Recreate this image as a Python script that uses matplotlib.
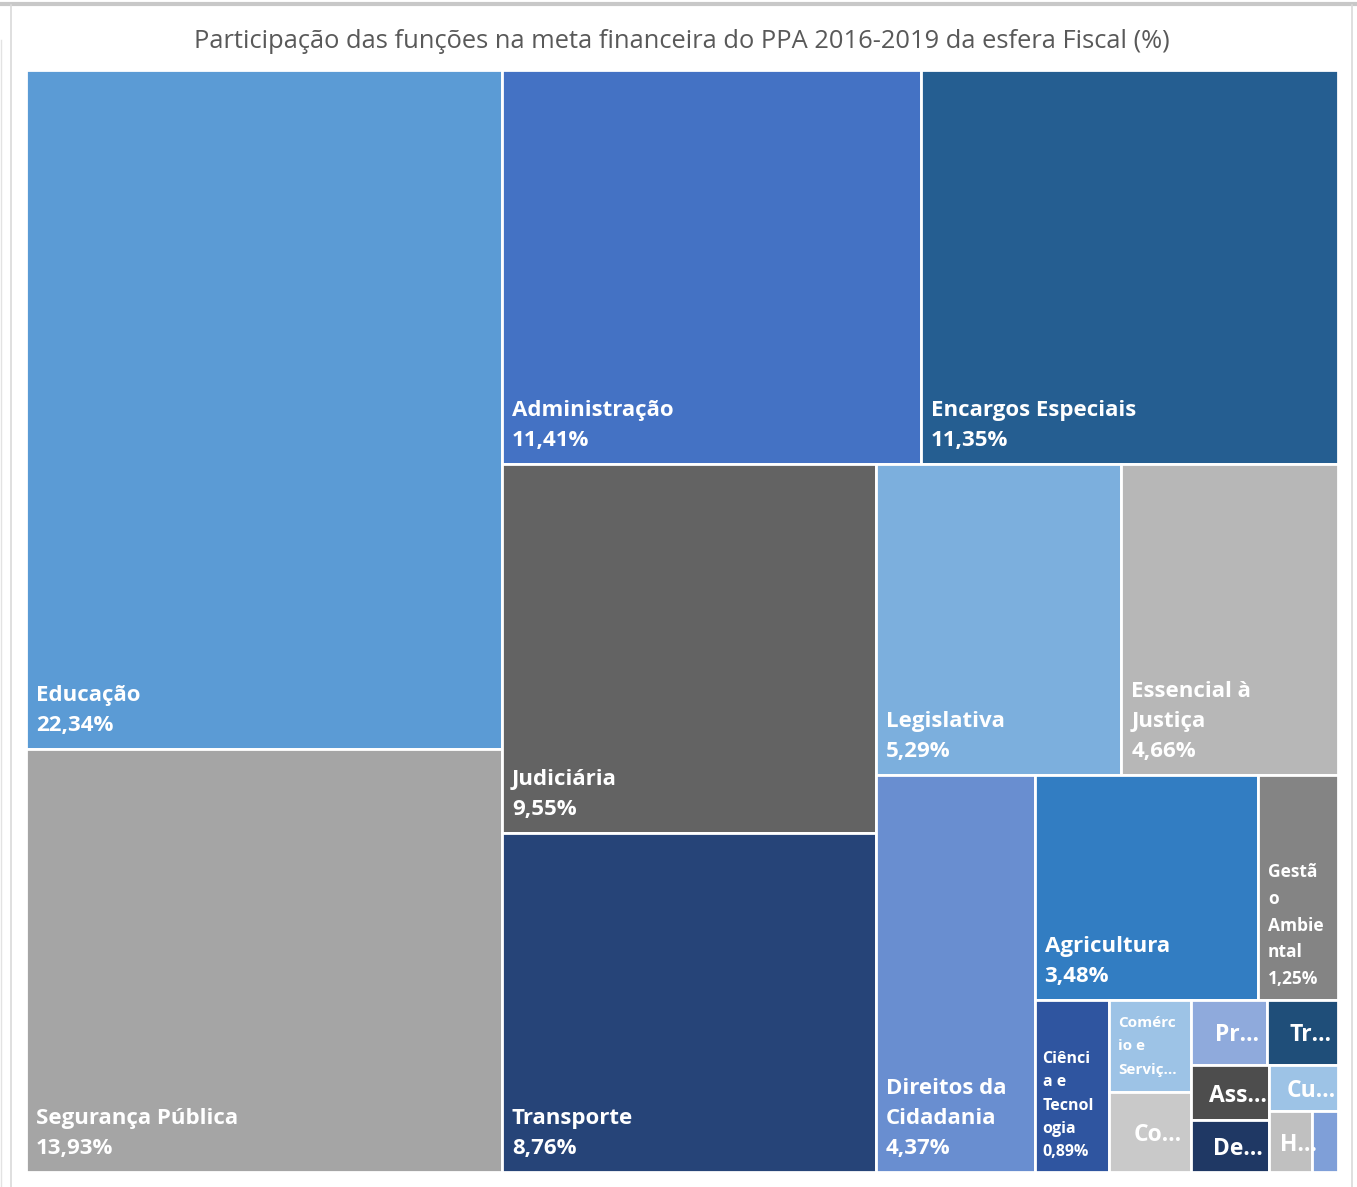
import matplotlib.pyplot as plt
from matplotlib.patches import Rectangle

# data
names = ["Educação", "Segurança Pública", "Administração", "Encargos Especiais",
         "Judiciária", "Transporte", "Legislativa", "Essencial à Justiça",
         "Direitos da Cidadania", "Agricultura", "Gestão Ambiental",
         "Ciência e Tecnologia", "Comércio e Serviços", "Co…", "Pr…", "Tr…",
         "Ass…", "De…", "Cu…", "H…", ""]
values = [22.34, 13.93, 11.41, 11.35, 9.55, 8.76, 5.29, 4.66, 4.37, 3.48, 1.25,
          0.89, 0.52, 0.45, 0.34, 0.32, 0.30, 0.28, 0.22, 0.18, 0.11]
# text as shown in each cell (Excel wraps / truncates small ones)
shown = ["Educação", "Segurança Pública", "Administração", "Encargos Especiais",
         "Judiciária", "Transporte", "Legislativa", "Essencial à\nJustiça",
         "Direitos da\nCidadania", "Agricultura", "Gestã\no\nAmbie\nntal",
         "Ciênci\na e\nTecnol\nogia", "Comérc\nio e\nServiç…", "Co…", "Pr…", "Tr…",
         "Ass…", "De…", "Cu…", "H…", ""]
colors = ["#5B9BD5", "#A5A5A5", "#4472C4", "#255E91", "#636363", "#264478",
          "#7CAFDD", "#B7B7B7", "#698ED0", "#327DC2", "#848484", "#2F55A0",
          "#9DC3E6", "#C9C9C9", "#8FAADC", "#1F4E79", "#4D4D4D", "#1F3864",
          "#9DC3E6", "#C0C0C0", "#7F9FD8"]
# how many items go in each strip of the treemap
strips = [2, 2, 2, 2, 1, 2, 1, 2, 2, 2, 1, 1, 1]


def treemap(vals, strips, x, y, w, h):
    scale = w * h / sum(vals)
    rects = []
    i = 0
    for n in strips:
        group = vals[i:i + n]
        i += n
        area = sum(group) * scale
        if w >= h:
            t = area / h
            yy = y
            for v in group:
                hh = v * scale / t
                rects.append((x, yy, t, hh))
                yy += hh
            x += t
            w -= t
        else:
            t = area / w
            xx = x
            for v in group:
                ww = v * scale / t
                rects.append((xx, y, ww, t))
                xx += ww
            y += t
            h -= t
    return rects


W, H = 1357, 1187
fig = plt.figure(figsize=(W / 100, H / 100), dpi=100)
ax = fig.add_axes([0, 0, 1, 1])
ax.set_xlim(0, W)
ax.set_ylim(H, 0)
ax.axis("off")

# chart frame
ax.plot([0, W], [4, 4], color="#C8C8C8", lw=3)
ax.plot([11, 11], [5, H], color="#D9D9D9", lw=1.2)
ax.plot([1352, 1352], [5, H], color="#D9D9D9", lw=1.2)
ax.plot([1, 1], [40, H], color="#E3E3E3", lw=1)

ax.text(682, 41, "Participação das funções na meta financeira do PPA 2016-2019 da esfera Fiscal (%)",
        ha="center", va="center", fontsize=18.4, color="#595959", family="Open Sans")

font = dict(color="white", fontweight="bold", family="Open Sans")
rects = treemap(values, strips, 26, 70, 1312, 1102)
for i, (x, y, w, h) in enumerate(rects):
    ax.add_patch(Rectangle((x, y), w, h, facecolor=colors[i], edgecolor="white", lw=2))
    pct = f"{values[i]:.2f}%".replace(".", ",")
    if i < 10:
        ax.text(x + 10, y + h - 13, shown[i] + "\n" + pct, ha="left", va="bottom",
                fontsize=16, linespacing=1.56, **font)
    elif i == 10:
        ax.text(x + 10, y + h - 12, shown[i] + "\n" + pct, ha="left", va="bottom",
                fontsize=12.5, linespacing=1.62, **font)
    elif i == 11:
        ax.text(x + 8, y + h - 12, shown[i] + "\n" + pct, ha="left", va="bottom",
                fontsize=11.5, linespacing=1.6, **font)
    elif i == 12:
        ax.text(x + 9, y + 16, shown[i], ha="left", va="top",
                fontsize=11, linespacing=1.85, **font)
    elif shown[i]:
        ax.text(x + w / 2 + 8, y + h / 2 + 3, shown[i], ha="center", va="center",
                fontsize=16.5, **font)

fig.savefig("out.png", dpi=100)
